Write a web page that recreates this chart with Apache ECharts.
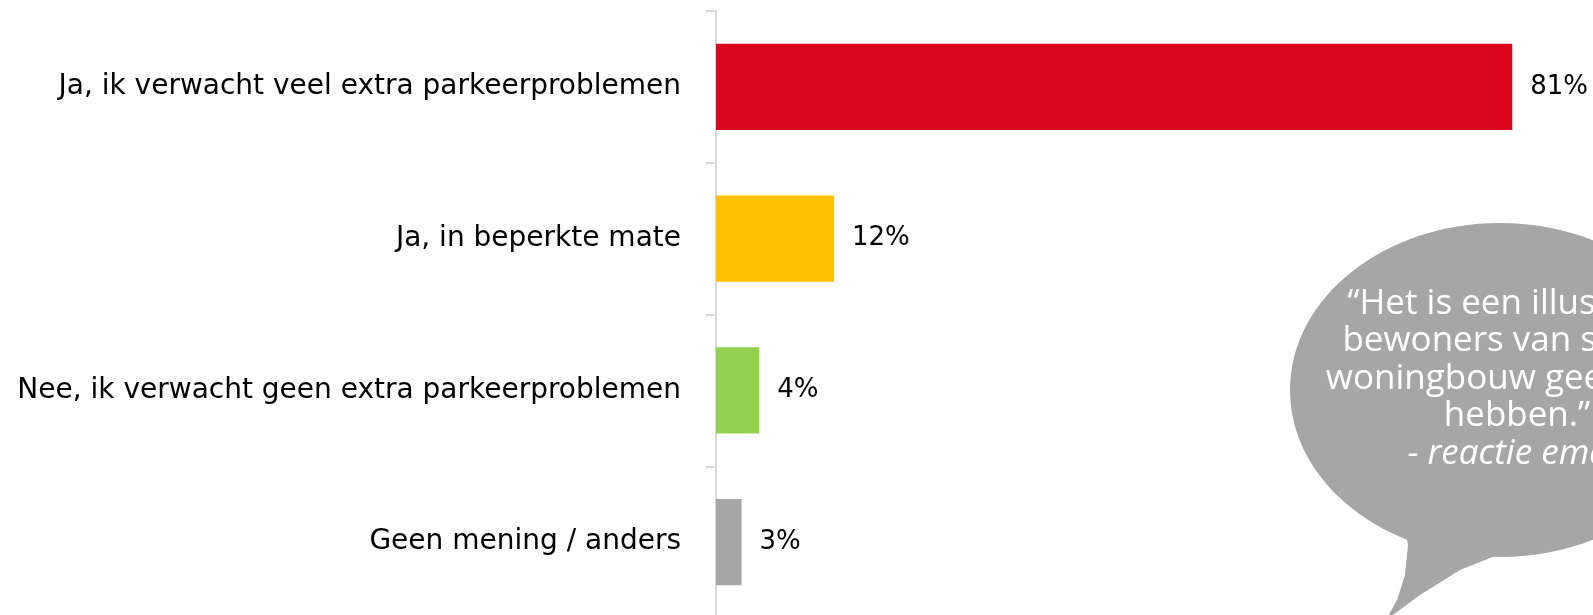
<!DOCTYPE html>
<html>
<head>
<meta charset="utf-8">
<script src="https://cdn.jsdelivr.net/npm/echarts@6/dist/echarts.min.js"></script>
<style>
  html, body { margin: 0; padding: 0; background: #fff; }
  #chart { width: 1593px; height: 615px; }
</style>
</head>
<body>
<div id="chart"></div>
<script>
// answers, top to bottom
var categories = [
    'Ja, ik verwacht veel extra parkeerproblemen',
    'Ja, in beperkte mate',
    'Nee, ik verwacht geen extra parkeerproblemen',
    'Geen mening / anders'
];
var values = [81, 12, 4.4, 2.6];
var barColors = ['#dc051e', '#ffc000', '#92d050', '#a6a6a6'];

// quote in the speech bubble
var quoteLines = ['\u201cHet is een illusie dat', 'bewoners van sociale', 'woningbouw geen auto', 'hebben.\u201d'];
var quoteSource = '- reactie email';

var chart = echarts.init(document.getElementById('chart'));

var labelFont = 'DejaVu Sans';

var options = {
    animation: false,
    // plot runs past the right and bottom edge of the picture
    grid: {
        outerBoundsMode: 'none',
        left: 716,
        top: 11,
        width: 983,
        height: 607
    },
    xAxis: {
        type: 'value',
        min: 0,
        max: 100,
        show: false
    },
    yAxis: {
        type: 'category',
        inverse: true,
        data: categories,
        axisLine: { show: true, lineStyle: { color: '#d9d9d9', width: 2 } },
        axisTick: { show: true, length: 10, lineStyle: { color: '#d9d9d9', width: 2 } },
        axisLabel: {
            margin: 35,
            color: '#000',
            fontSize: 28,
            fontFamily: labelFont
        }
    },
    series: [{
        type: 'bar',
        data: values.map(function (v, i) {
            return { value: v, itemStyle: { color: barColors[i] } };
        }),
        barWidth: '57%',
        label: {
            show: true,
            position: 'right',
            distance: 18,
            color: '#000',
            fontSize: 26,
            fontFamily: labelFont,
            formatter: function (p) { return Math.round(p.value) + '%'; }
        }
    }],
    graphic: [
        // speech bubble
        {
            type: 'ellipse',
            shape: { cx: 1500, cy: 390, rx: 210, ry: 167 },
            style: { fill: '#a6a6a6' },
            z: 10
        },
        {
            type: 'polygon',
            shape: {
                points: [[1400, 500], [1408, 545], [1405, 575], [1397, 600], [1386, 620],
                    [1420, 595], [1460, 570], [1505, 552]]
            },
            style: { fill: '#a6a6a6' },
            z: 10
        },
        {
            type: 'text',
            x: 1517,
            y: 285,
            style: {
                text: quoteLines.join('\n'),
                fill: '#fff',
                font: '35px "Open Sans"',
                lineHeight: 37.5,
                align: 'center',
                verticalAlign: 'top'
            },
            z: 11
        },
        {
            type: 'text',
            x: 1517,
            y: 435,
            style: {
                text: quoteSource,
                fill: '#fff',
                font: 'italic 35px "Open Sans"',
                lineHeight: 37.5,
                align: 'center',
                verticalAlign: 'top'
            },
            z: 11
        }
    ]
};

chart.setOption(options);
</script>
</body>
</html>
